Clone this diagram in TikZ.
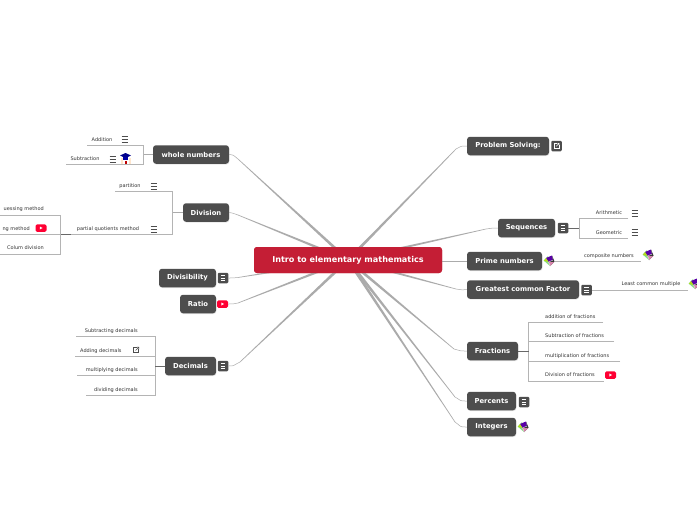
\documentclass[tikz,border=0pt]{standalone}
\usepackage{fontspec}
\setmainfont{DejaVu Sans}
\usetikzlibrary{calc,shadows}
\definecolor{rootred}{HTML}{C41E35}
\definecolor{dark}{HTML}{4D4D4D}
\definecolor{spokegray}{HTML}{ABABAB}
\definecolor{rulegray}{HTML}{B4B4B4}
\definecolor{ytred}{HTML}{FF0033}
\tikzset{
  mainbox/.style={draw=none,fill=dark,rounded corners=3pt,text=white,inner sep=0pt,
    font=\fontsize{6.8}{8}\bfseries\selectfont,minimum height=18.5pt,
    drop shadow={opacity=.2,shadow xshift=.4pt,shadow yshift=-.8pt}},
  rootbox/.style={fill=rootred,rounded corners=3pt,text=white,inner sep=0pt,
    minimum width=188pt,minimum height=26pt,font=\fontsize{8.1}{10}\bfseries\selectfont},
  leaf/.style={inner sep=0pt,text=black!80,font=\fontsize{5}{6}\selectfont},
  iconbox/.style={fill=dark,rounded corners=1.2pt,minimum width=10.5pt,minimum height=10.5pt,inner sep=0pt},
  ytbox/.style={fill=ytred,rounded corners=1.5pt,minimum width=11pt,minimum height=7.5pt,inner sep=0pt},
  branch/.style={draw=rulegray,line width=.8pt},
  stem/.style={draw=dark!85,line width=1pt},
  thinspoke/.style={draw=spokegray,line width=.5pt},
  pics/hamb/.style={code={
    \foreach \q in {-3,0,3}{\draw[line width=.75pt,#1] (-3.3,\q) -- (3.3,\q);}
  }},
  pics/linkmark/.style={code={
    \draw[line width=.5pt,#1] (1,-2.6) -- (-2.6,-2.6) -- (-2.6,2.6) -- (2.6,2.6) -- (2.6,-.6);
    \draw[line width=.5pt,#1] (-.4,.4) -- (2.8,-2.8) (.9,-2.8) -- (2.8,-2.8) -- (2.8,-.9);
  }},
  pics/play/.style={code={\fill[white] (-1.2,-1.5) -- (1.6,0) -- (-1.2,1.5) -- cycle;}},
  pics/gem/.style={code={
    \fill[green!55!gray!60] (-5.5,-.5) -- (-1,-5) -- (1,5) -- cycle;
    \fill[violet!70!blue] (-3,-3) -- (3,-5.5) -- (4,-1) -- (-.5,1) -- cycle;
    \fill[dark!70!black] (3,-5.5) -- (5.5,.5) -- (1.2,5) -- (-.5,1) -- (4,-1) -- cycle;
    \fill[yellow!70!green] (-5,-.2) -- (-.5,1) -- (-3,-3) -- cycle;
    \fill[pink!70!violet] (-.5,1) -- (5,1) -- (1.2,5) -- cycle;
    \draw[white,line width=.3pt] (-.5,1) -- (1.2,5) (-.5,1) -- (4,-1);
  }},
  pics/gradcap/.style={code={
    \fill[orange!20] (-5,-1) rectangle (5,5.5);
    \fill[white] (-3,-1) rectangle (3,5.5);
    \fill[blue!55!black] (-5.5,-3) -- (0,-5.5) -- (5.5,-3) -- (0,-.5) -- cycle;
    \fill[blue!65!black] (-2.8,-1.5) rectangle (2.8,1);
    \fill[red!75!black] (-1,2) rectangle (1,5);
  }}
}
\newcommand{\spoke}[3]{%
  \coordinate (sb) at #3;
  \fill[spokegray] ($(root.center)!1.5pt!90:(sb)$) -- ($(sb)!.3pt!-90:(root.center)$)
     -- ($(sb)!.3pt!90:(root.center)$) -- ($(root.center)!1.5pt!-90:(sb)$) -- cycle;
  \draw[thinspoke] (sb) .. controls #2 .. (#1);
}
\begin{document}
\begin{tikzpicture}[x=1pt,y=-1pt]
\useasboundingbox (0,0) rectangle (697,520);
\clip (0,0) rectangle (697,520);
\fill[white] (0,0) rectangle (697,520);

% central topic and main topics
\node[rootbox] (root) at (348,260) {Intro to elementary mathematics};
\node[mainbox,minimum width=76pt] (whole) at (191,154.5) {whole numbers};
\node[mainbox,minimum width=46pt] (division) at (206,212.5) {Division};
\node[mainbox,minimum width=57pt] (divis) at (187.5,278) {Divisibility};
\node[mainbox,minimum width=36pt] (ratio) at (198,304) {Ratio};
\node[mainbox,minimum width=51pt] (decimals) at (190.5,366) {Decimals};
\node[mainbox,minimum width=82pt] (problem) at (508,146) {Problem Solving:};
\node[mainbox,minimum width=57pt] (seq) at (526.5,228) {Sequences};
\node[mainbox,minimum width=75pt] (prime) at (504.5,261) {Prime numbers};
\node[mainbox,minimum width=112pt] (gcf) at (523,289.5) {Greatest common Factor};
\node[mainbox,minimum width=51pt] (fractions) at (492.5,351) {Fractions};
\node[mainbox,minimum width=49pt] (percents) at (491.5,401) {Percents};
\node[mainbox,minimum width=49pt] (integers) at (491.5,427) {Integers};

% icon boxes on main topics
\node[iconbox] (divisnote) at (223,278) {};
\node[ytbox] (ratioyt) at (222.5,304) {};
\node[iconbox] (decnote) at (223,366) {};
\node[iconbox] (problink) at (556.5,146) {};
\node[iconbox] (seqnote) at (563,228) {};
\coordinate (primeicon) at (555,261.5);
\node[iconbox] (gcfnote) at (586.5,290) {};
\node[iconbox] (pernote) at (524,402) {};

% spokes
\begin{scope}[on background layer/.style={}]
\spoke{whole.east}{(233,155) and (234,155)}{(238,159)}
\spoke{division.east}{(232,213) and (233,213)}{(238,215)}
\spoke{divisnote.east}{(232,278) and (233,278)}{(238,277.5)}
\spoke{ratioyt.east}{(232,304) and (234,304)}{(238,303)}
\spoke{decnote.east}{(232,366) and (235,366)}{(240,362)}
\spoke{problem.west}{(462,146) and (460,146)}{(456,149)}
\spoke{seq.west}{(494,228) and (491,228)}{(486,229)}
\spoke{gcf.west}{(463,290) and (461,290)}{(456,289)}
\spoke{fractions.west}{(462,351) and (459,351)}{(454,349)}
\spoke{percents.west}{(462,401) and (459,401)}{(455,397)}
\spoke{integers.west}{(462,427) and (459,427)}{(455,422)}
\draw[thinspoke] (root.east |- prime.west) -- (prime.west);
\end{scope}
\node[rootbox] at (root.center) {Intro to elementary mathematics};

% whole numbers
\node[leaf] (addition) at (102,140) {Addition};
\node[leaf] (subtraction) at (85,159) {Subtraction};
\coordinate (wj) at (143.5,154.5);
\coordinate (addl) at (87,145);
\coordinate (subl) at (66,164.3);
\draw[branch] (addl) -- (addl -| wj) -- (subl -| wj) -- (subl);
\draw[stem,draw=spokegray,line width=1.3pt] (whole.west) -- (wj);
\pic at (125,139) {hamb={dark}};
\pic at (113,159) {hamb={dark}};
\pic at (125.5,158.5) {gradcap};

% division
\node[leaf] (partition) at (130,186) {partition};
\node[leaf] (quot) at (108,229) {partial quotients method};
\coordinate (dj) at (172.5,212.5);
\coordinate (parl) at (115,191.3);
\coordinate (quol) at (71,234.4);
\draw[branch] (parl) -- (parl -| dj) -- (quol -| dj) -- (quol);
\draw[stem,draw=spokegray,line width=1.3pt] (division.west) -- (dj);
\pic at (154,186) {hamb={dark}};
\pic at (154,229) {hamb={dark}};

% partial quotients children
\node[leaf,anchor=east] (guess) at (44,209) {uessing method};
\node[leaf,anchor=east] (chunk) at (30,229) {ng method};
\node[leaf,anchor=east] (colum) at (44,248) {Colum division};
\coordinate (qj) at (60.5,234.4);
\coordinate (gl) at (0,215);
\coordinate (cl) at (0,254);
\draw[branch] (gl) -- (gl -| qj) -- (cl -| qj) -- (cl);
\draw[branch] (0,234.4) -- (qj);
\draw[stem] (qj) -- (quol);
\node[ytbox] (chunkyt) at (41,228) {};
\pic at (chunkyt.center) {play};

% decimals
\node[leaf,anchor=east] (subd) at (138,331) {Subtracting decimals};
\node[leaf,anchor=west] (addd) at (80,351) {Adding decimals};
\node[leaf,anchor=east] (muld) at (138,370) {multiplying decimals};
\node[leaf,anchor=east] (divd) at (138,390) {dividing decimals};
\coordinate (cj) at (155,366);
\coordinate (subdl) at (76,336.7);
\coordinate (adddl) at (75,356);
\coordinate (muldl) at (77,375.6);
\coordinate (divdl) at (86,395);
\draw[branch] (subdl) -- (subdl -| cj) -- (divdl -| cj) -- (divdl);
\draw[branch] (adddl) -- (adddl -| cj);
\draw[branch] (muldl) -- (muldl -| cj);
\draw[stem] (decimals.west) -- (cj);
\pic at (136,350) {linkmark={dark}};

% sequences
\node[leaf] (arith) at (609,213) {Arithmetic};
\node[leaf] (geom) at (609,233) {Geometric};
\coordinate (sj) at (579,228);
\coordinate (arl) at (628,218.5);
\coordinate (gel) at (628,238);
\draw[branch] (arl) -- (arl -| sj) -- (gel -| sj) -- (gel);
\draw[stem] (seqnote.east) -- (sj);
\pic at (635,213) {hamb={dark}};
\pic at (635,232) {hamb={dark}};

% prime numbers
\node[leaf] (comp) at (609,256) {composite numbers};
\coordinate (compl) at (641,261.5);
\draw[branch] (primeicon) -- (compl);
\pic at (549,261) {gem};
\pic at (648,255) {gem};

% gcf
\node[leaf] (lcm) at (651,284) {Least common multiple};
\coordinate (lcml) at (688,290);
\draw[branch] (gcfnote.east) -- (lcml);
\pic at (694,284) {gem};

% fractions
\node[leaf,anchor=west] (fa) at (545,317) {addition of fractions};
\node[leaf,anchor=west] (fs) at (545,336) {Subtraction of fractions};
\node[leaf,anchor=west] (fm) at (545,356) {multiplication of fractions};
\node[leaf,anchor=west] (fd) at (545,375) {Division of fractions};
\coordinate (fj) at (528.7,351);
\coordinate (fal) at (603,322);
\coordinate (fsl) at (614,341.5);
\coordinate (fml) at (620,361);
\coordinate (fdl) at (604,381);
\draw[branch] (fal) -- (fal -| fj) -- (fdl -| fj) -- (fdl);
\draw[branch] (fsl) -- (fsl -| fj);
\draw[branch] (fml) -- (fml -| fj);
\draw[stem] (fractions.east) -- (fj);
\node[ytbox] (fdyt) at (610.5,375) {};
\pic at (fdyt.center) {play};

% icons on main topics
\pic[scale=.75] at (divisnote.center) {hamb={white}};
\pic at (ratioyt.center) {play};
\pic[scale=.75] at (decnote.center) {hamb={white}};
\pic[scale=.9] at (problink.center) {linkmark={white}};
\pic[scale=.75] at (seqnote.center) {hamb={white}};
\pic[scale=.75] at (gcfnote.center) {hamb={white}};
\pic[scale=.75] at (pernote.center) {hamb={white}};
\pic at (523,427) {gem};
\end{tikzpicture}
\end{document}
